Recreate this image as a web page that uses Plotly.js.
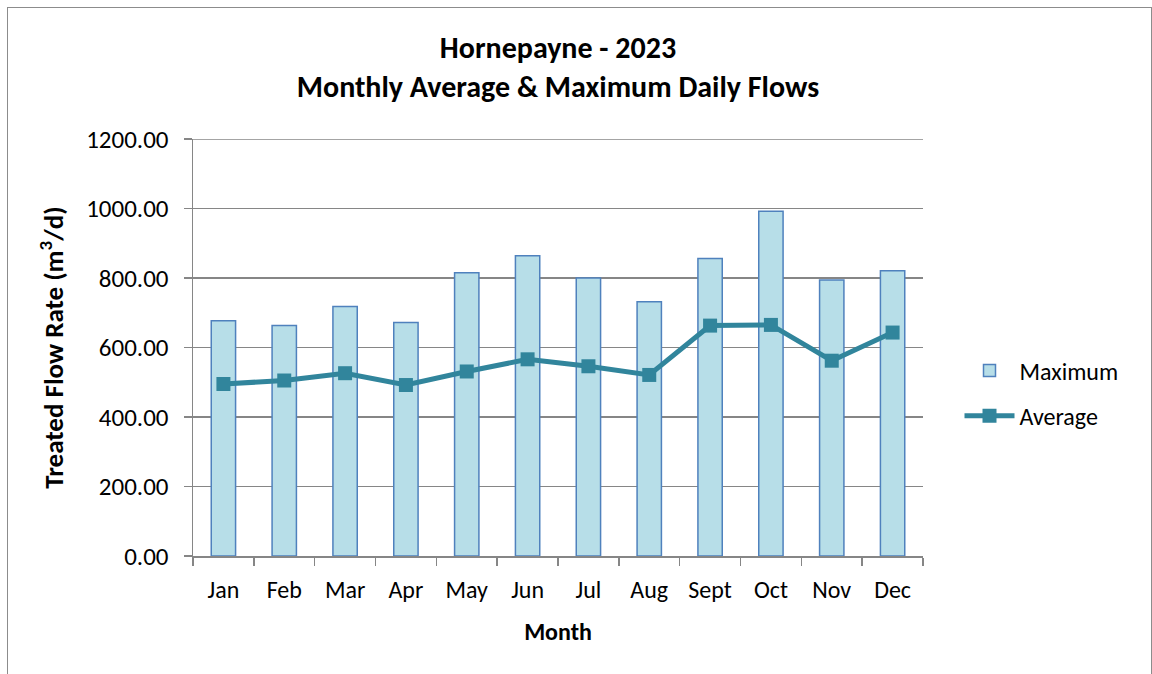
<!DOCTYPE html>
<html>
<head>
<meta charset="utf-8">
<script src="https://cdn.plot.ly/plotly-3.0.1.min.js"></script>
<style>
html,body{margin:0;padding:0;background:#fff;}
#frame{position:absolute;left:7px;top:7px;width:1143px;height:700px;border:1px solid #8c8c8c;}
#chart{position:absolute;left:0;top:0;width:1152px;height:674px;}
</style>
</head>
<body>
<div id="frame"></div>
<div id="chart"></div>
<script>
const months = ["Jan","Feb","Mar","Apr","May","Jun","Jul","Aug","Sept","Oct","Nov","Dec"];
const maximumFlow = [677, 663, 718, 672, 815, 864, 800, 732, 856, 992, 794, 821];
const averageFlow = [495, 505, 526, 492, 531, 566, 546, 521, 663, 665, 562, 643];
const yTicks = [0, 200, 400, 600, 800, 1000, 1200];

const FONT = "Carlito, Lato, 'Liberation Sans', sans-serif";
const GRID = "#868686";

const traces = [
  {
    type: "bar", name: "Maximum", x: months, y: maximumFlow,
    legendgroup: "a",
    marker: {color: "#B7DEE8", line: {color: "#4F81BD", width: 1.5}},
    hoverinfo: "x+y"
  },
  {
    type: "scatter", mode: "lines+markers", name: "Average", x: months, y: averageFlow,
    legendgroup: "b",
    line: {color: "#31859C", width: 5},
    marker: {symbol: "square", size: 14, color: "#31859C"}
  }
];

const layout = {
  width: 1152, height: 674,
  paper_bgcolor: "rgba(0,0,0,0)", plot_bgcolor: "#fff",
  margin: {l: 193, r: 229, t: 139, b: 118},
  font: {family: FONT, size: 24, color: "#000"},
  title: {
    text: "<b>Hornepayne - 2023<br>Monthly Average &amp; Maximum Daily Flows</b>",
    font: {family: FONT, size: 30, color: "#000"},
    x: 0.5, xref: "paper", xanchor: "center", y: 0.914, yref: "container", yanchor: "middle"
  },
  bargap: 0.6,
  xaxis: {
    type: "category", range: [-0.5, months.length - 0.5],
    tickson: "boundaries", ticks: "outside", ticklen: 8,
    tickcolor: GRID, tickwidth: 1.5,
    showline: true, linecolor: GRID, linewidth: 1.5,
    showgrid: false,
    ticklabelstandoff: 12,
    tickfont: {family: FONT, size: 24},
    title: {text: "<b>Month</b>", font: {family: FONT, size: 24}, standoff: 20}
  },
  yaxis: {
    range: [0, 1200], tickvals: yTicks, tickformat: ".2f",
    ticks: "outside", ticklen: 8, tickcolor: GRID, tickwidth: 1.5,
    showline: true, linecolor: GRID, linewidth: 1.5,
    showgrid: true, gridcolor: GRID, gridwidth: 1.5,
    zeroline: false,
    ticklabelstandoff: 10,
    tickfont: {family: FONT, size: 25},
    title: {text: "<b>Treated Flow Rate (m<sup>3</sup>/d)</b>", font: {family: FONT, size: 27}, standoff: 14}
  },
  shapes: [
    {type: "line", xref: "paper", x0: 0, x1: 1, yref: "y", y0: yTicks[yTicks.length - 1], y1: yTicks[yTicks.length - 1],
     line: {color: GRID, width: 1.5}, layer: "below"}
  ],
  legend: {
    x: 1.05, xanchor: "left", y: 0.39, yanchor: "middle",
    font: {family: FONT, size: 24},
    itemwidth: 50,
    traceorder: "grouped", tracegroupgap: 11,
    bgcolor: "rgba(0,0,0,0)"
  },
  showlegend: true
};

Plotly.newPlot("chart", traces, layout, {displayModeBar: false, staticPlot: true});
</script>
</body>
</html>
